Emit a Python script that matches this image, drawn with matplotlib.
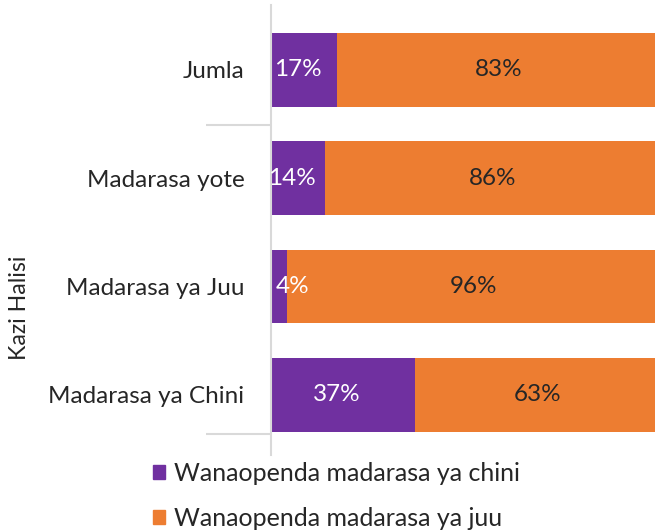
import matplotlib
matplotlib.use("Agg")
import matplotlib.pyplot as plt
from matplotlib.patches import Patch

categories = ["Madarasa ya Chini", "Madarasa ya Juu", "Madarasa yote", "Jumla"]
chini = [37, 4, 14, 17]
juu = [63, 96, 86, 83]
series_names = ["Wanaopenda madarasa ya chini", "Wanaopenda madarasa ya juu"]
ylabel = "Kazi Halisi"

PURPLE = "#7030A0"
ORANGE = "#ED7D31"
GRID = "#D9D9D9"
TXT = "#262626"

plt.rcParams["font.family"] = ["Lato", "DejaVu Sans"]

fig = plt.figure(figsize=(6.55, 5.32), dpi=100)
ax = fig.add_axes([271/655, 1-455/532, (660-271)/655, 450/532])

ypos = list(range(len(categories)))
ax.barh(ypos, chini, height=0.68, color=PURPLE)
ax.barh(ypos, juu, left=chini, height=0.68, color=ORANGE)

for y, a, b in zip(ypos, chini, juu):
    xa = max(a/2 - 1.5, 5.5)
    ax.text(xa, y, f"{a}%", ha="center", va="center", color="white", fontsize=17.5)
    ax.text(a + b/2, y, f"{b}%", ha="center", va="center", color=TXT, fontsize=17.5)

ax.set_xlim(0, 100)
ax.set_ylim(-0.554, 3.60)
ax.set_xticks([])
ax.set_yticks(ypos)
ax.set_yticklabels(categories, fontsize=17.5, color=TXT)
ax.tick_params(axis="y", which="major", length=0, pad=19)
ax.set_yticks([-0.36, 2.49], minor=True)
ax.tick_params(axis="y", which="minor", length=47, width=1.5, color=GRID)
for s in ["top", "right", "bottom"]:
    ax.spines[s].set_visible(False)
ax.spines["left"].set_color(GRID)
ax.spines["left"].set_linewidth(1.5)

fig.text(20/655, 1-308/532, ylabel, rotation=90, ha="center", va="center", fontsize=16.7, color=TXT)

handles = [Patch(color=PURPLE), Patch(color=ORANGE)]
fig.legend(handles, series_names, loc="center left", bbox_to_anchor=(130/655, 1-496/532),
           frameon=False, fontsize=18, handlelength=0.5, handleheight=0.5,
           handletextpad=0.38, labelspacing=0.88, labelcolor=TXT)

fig.savefig("out.png", dpi=100)
